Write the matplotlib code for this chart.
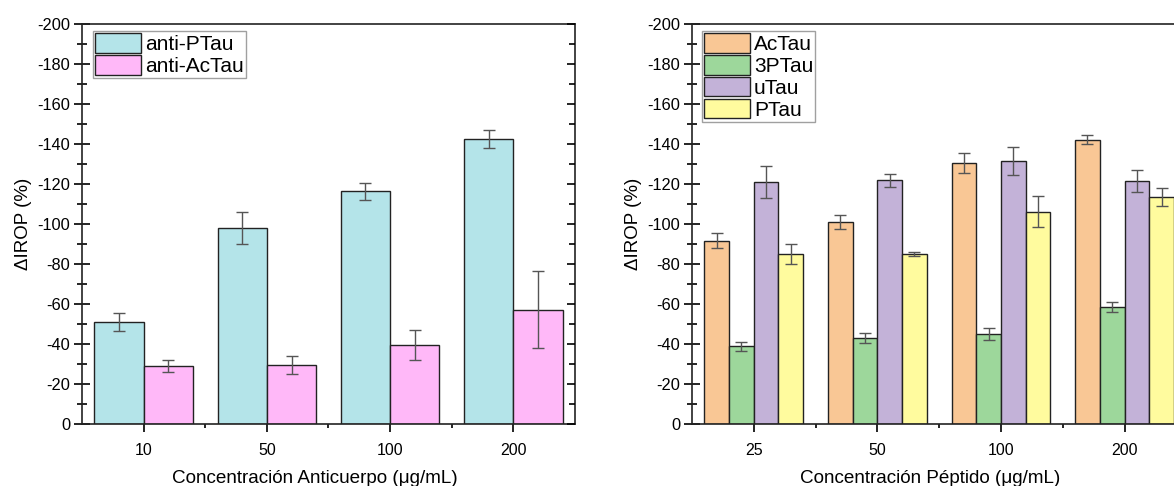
import numpy as np
import matplotlib.pyplot as plt
from matplotlib.ticker import MultipleLocator, FixedLocator

plt.rcParams['font.family'] = ['Liberation Sans', 'DejaVu Sans']

# anticuerpos
conc_ac = ['10', '50', '100', '200']
anti_ptau = [-51.0, -97.8, -116.3, -142.5]
anti_ptau_err = [4.5, 8.0, 4.4, 4.7]
anti_actau = [-29.0, -29.5, -39.3, -57.2]
anti_actau_err = [3.0, 4.3, 7.5, 19.3]

# peptidos
conc_pep = ['25', '50', '100', '200']
actau = [-91.7, -101.2, -130.4, -142.1]
actau_err = [3.6, 3.5, 5.0, 2.3]
tres_ptau = [-38.8, -42.8, -45.0, -58.6]
tres_ptau_err = [2.4, 2.5, 3.2, 2.6]
utau = [-121.2, -121.8, -131.6, -121.4]
utau_err = [8.0, 3.1, 7.0, 5.5]
ptau = [-85.0, -85.0, -106.2, -113.3]
ptau_err = [5.0, 1.0, 7.6, 4.5]

fig = plt.figure(figsize=(11.74, 4.86), dpi=100)
ax1 = fig.add_axes([0.0698, 0.1276, 0.4200, 0.8230])
ax2 = fig.add_axes([0.5894, 0.1276, 0.4211, 0.8230])

err_kw = dict(ecolor='#555555', elinewidth=1.0, capsize=4, capthick=1.0)
yt = np.arange(0, -201, -20)


def estilo(ax, cats):
    x = np.arange(len(cats))
    ax.set_xlim(-0.5, len(cats) - 0.5)
    ax.set_ylim(0, -200)
    ax.set_yticks(yt)
    ax.set_yticklabels([str(int(v)) for v in yt])
    ax.yaxis.set_minor_locator(MultipleLocator(10))
    ax.xaxis.set_major_locator(FixedLocator(x))
    ax.xaxis.set_minor_locator(FixedLocator(x[:-1] + 0.5))
    ax.set_xticklabels(cats)
    ax.tick_params(axis='y', which='major', direction='inout', length=11, width=1.2,
                   labelsize=11.8, pad=3)
    ax.tick_params(axis='y', which='minor', direction='inout', length=7, width=1.2)
    ax.tick_params(axis='x', which='major', direction='out', length=6, width=1.2,
                   labelsize=11.5, pad=8)
    ax.tick_params(axis='x', which='minor', direction='out', length=3, width=1.2)
    for s in ax.spines.values():
        s.set_linewidth(1.2)
        s.set_color('#222222')
    ax.set_ylabel('ΔIROP (%)', fontsize=13.5, labelpad=4)

    # ticks hacia dentro en el eje derecho
    der = ax.twinx()
    der.set_ylim(ax.get_ylim())
    der.set_yticks(yt)
    der.yaxis.set_minor_locator(MultipleLocator(10))
    der.tick_params(axis='y', which='major', direction='in', length=6, width=1.2,
                    labelright=False)
    der.tick_params(axis='y', which='minor', direction='in', length=4, width=1.2)
    for s in der.spines.values():
        s.set_visible(False)
    return x


x1 = estilo(ax1, conc_ac)
w1 = 0.4
ax1.bar(x1 - w1 / 2, anti_ptau, w1, yerr=anti_ptau_err, color='#B4E4E9',
        edgecolor='#222222', linewidth=1.0, label='anti-PTau', error_kw=err_kw)
ax1.bar(x1 + w1 / 2, anti_actau, w1, yerr=anti_actau_err, color='#FFB8F8',
        edgecolor='#222222', linewidth=1.0, label='anti-AcTau', error_kw=err_kw)
ax1.set_xlabel('Concentración Anticuerpo (μg/mL)', fontsize=13.6, labelpad=8,
               x=0.472)

x2 = estilo(ax2, conc_pep)
w2 = 0.2
series = [(actau, actau_err, '#F9C795', 'AcTau'),
          (tres_ptau, tres_ptau_err, '#9DD79B', '3PTau'),
          (utau, utau_err, '#C3B2D8', 'uTau'),
          (ptau, ptau_err, '#FFFB9E', 'PTau')]
for i, (vals, errs, col, lab) in enumerate(series):
    ax2.bar(x2 + (i - 1.5) * w2, vals, w2, yerr=errs, color=col,
            edgecolor='#222222', linewidth=1.0, label=lab, error_kw=err_kw)
ax2.set_xlabel('Concentración Péptido (μg/mL)', fontsize=13.6, labelpad=8,
               x=0.482)

for ax, dx in ((ax1, 0.022), (ax2, 0.020)):
    leg = ax.legend(loc='upper left', bbox_to_anchor=(dx, 0.982), fontsize=15,
                    frameon=True, fancybox=False, borderpad=0.1, labelspacing=0.05,
                    handlelength=2.2, handleheight=1.06, handletextpad=0.2,
                    borderaxespad=0.0)
    leg.get_frame().set_edgecolor('#888888')
    leg.get_frame().set_linewidth(1.0)
    leg.set_zorder(5)

fig.savefig('out.png', dpi=100)
